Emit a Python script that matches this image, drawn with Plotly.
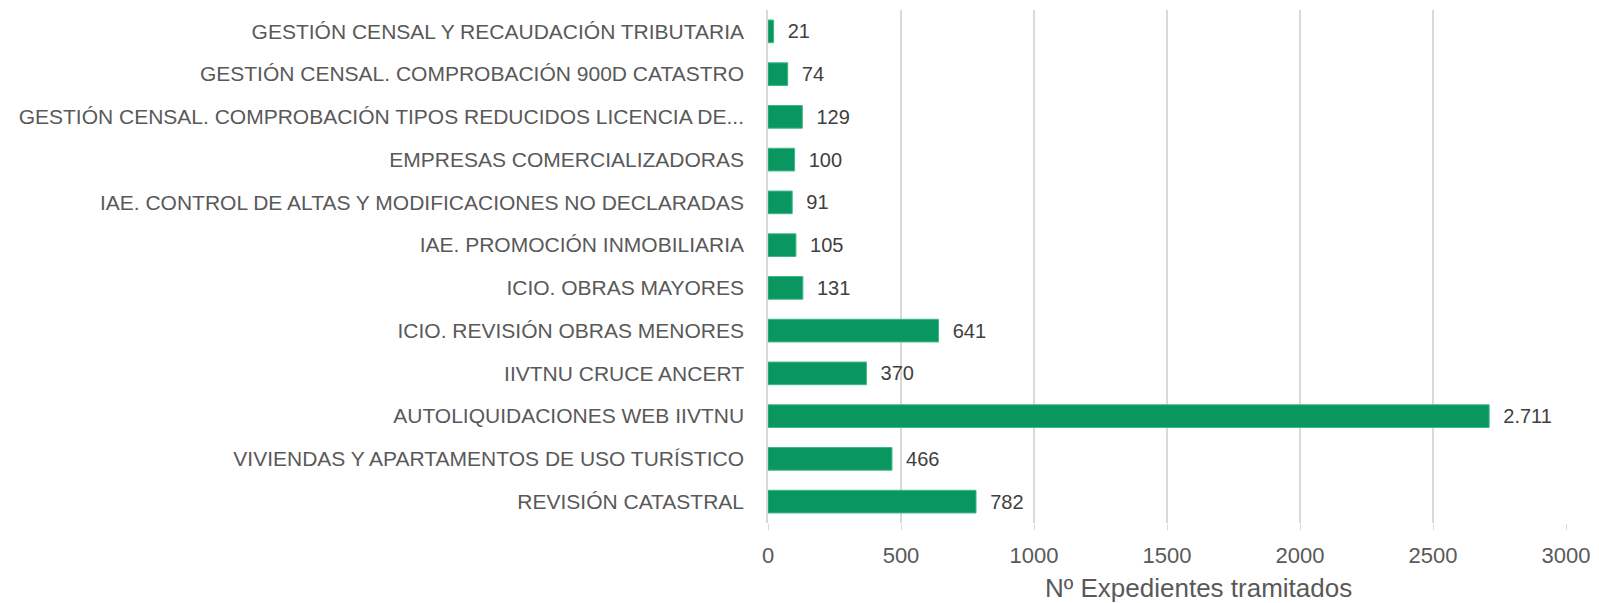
import plotly.graph_objects as go

categories = [
    "GESTIÓN CENSAL Y RECAUDACIÓN TRIBUTARIA",
    "GESTIÓN CENSAL. COMPROBACIÓN 900D CATASTRO",
    "GESTIÓN CENSAL. COMPROBACIÓN TIPOS REDUCIDOS LICENCIA DE...",
    "EMPRESAS COMERCIALIZADORAS",
    "IAE. CONTROL DE ALTAS Y MODIFICACIONES NO DECLARADAS",
    "IAE. PROMOCIÓN INMOBILIARIA",
    "ICIO. OBRAS MAYORES",
    "ICIO. REVISIÓN OBRAS MENORES",
    "IIVTNU CRUCE ANCERT",
    "AUTOLIQUIDACIONES WEB IIVTNU",
    "VIVIENDAS Y APARTAMENTOS DE USO TURÍSTICO",
    "REVISIÓN CATASTRAL",
]
values = [21, 74, 129, 100, 91, 105, 131, 641, 370, 2711, 466, 782]
x_ticks = [0, 500, 1000, 1500, 2000, 2500, 3000]
x_title = "Nº Expedientes tramitados"

labels = ["\u00a0\u00a0" + f"{v:,}".replace(",", ".") for v in values]

FONT = "Liberation Sans"
GRAY = "#595959"

fig = go.Figure(
    go.Bar(
        x=values,
        y=categories,
        orientation="h",
        marker=dict(color="#0A9660", line=dict(color="#3DB884", width=1)),
        text=labels,
        textposition="outside",
        cliponaxis=False,
        textfont=dict(family=FONT, size=23, color="#404040"),
        hoverinfo="x+y",
    )
)

fig.update_layout(
    width=1599,
    height=603,
    margin=dict(l=768, r=33, t=10, b=80, autoexpand=False),
    plot_bgcolor="white",
    paper_bgcolor="white",
    bargap=0.47,
    showlegend=False,
    font=dict(family=FONT, size=21, color=GRAY),
    annotations=[
        dict(
            text=x_title,
            x=0.539,
            y=-0.127,
            xref="paper",
            yref="paper",
            xanchor="center",
            yanchor="middle",
            showarrow=False,
            font=dict(family=FONT, size=26, color=GRAY),
        )
    ],
)

fig.update_xaxes(
    range=[0, 3000],
    tickvals=x_ticks,
    ticktext=[str(t) for t in x_ticks],
    showgrid=True,
    gridcolor="#D9D9D9",
    gridwidth=1.5,
    zeroline=False,
    showline=False,
    ticks="outside",
    ticklen=6,
    tickcolor="#D9D9D9",
    tickfont=dict(family=FONT, size=22, color=GRAY),
    ticklabelstandoff=7,
    automargin=False,
)

fig.update_yaxes(
    autorange="reversed",
    showgrid=False,
    showline=True,
    linecolor="#D9D9D9",
    linewidth=1.5,
    ticks="",
    tickfont=dict(family=FONT, size=21, color=GRAY),
    ticklabelstandoff=18,
    automargin=False,
)

fig.write_html(
    "out.html",
    config={"displayModeBar": False},
    post_script="document.body.style.margin='0px';",
)
